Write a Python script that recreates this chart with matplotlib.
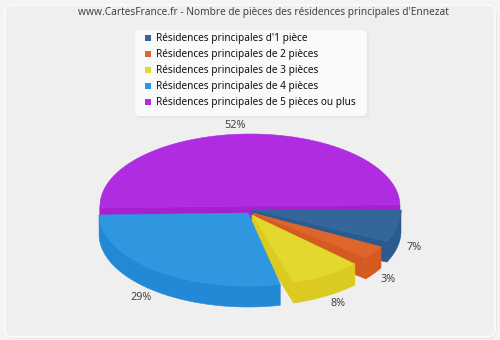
import numpy as np
import matplotlib
matplotlib.use("Agg")
import matplotlib.pyplot as plt
from matplotlib.patches import FancyBboxPatch, Polygon

title = "www.CartesFrance.fr - Nombre de pièces des résidences principales d'Ennezat"
categories = [
    "Résidences principales d'1 pièce",
    "Résidences principales de 2 pièces",
    "Résidences principales de 3 pièces",
    "Résidences principales de 4 pièces",
    "Résidences principales de 5 pièces ou plus",
]
values = [7, 3, 8, 29, 52]
value_labels = ["7%", "3%", "8%", "29%", "52%"]

top_colors = ["#33669a", "#e0652c", "#e3d82c", "#2f97e0", "#b02ce0"]
side_colors = ["#2a5a8e", "#d45a22", "#dbcb20", "#2389d6", "#a720d0"]

# layout of the exploded slices, pixels on the 500x340 canvas
gaps = [0.0, 3.2, 5.2, 4.3, -3.5]
apex = [(252, 210), (253, 213), (252, 215), (248, 213), (250, 206)]
radii = [(149, 73), (145.5, 71), (144, 70), (149, 73), (150, 72)]
depth = 21
label_xy = [(414, 248), (388, 279), (338, 303), (141, 297), (235, 126)]
draw_order = [4, 0, 1, 2, 3]


def arc(center, radius, start, stop):
    t = np.radians(np.linspace(start, stop, 80))
    return np.column_stack([center[0] + radius[0] * np.cos(t), center[1] + radius[1] * np.sin(t)])


def draw_slice(ax, center, radius, start, stop, top, side):
    down = np.array([0, depth])
    cx_cy = np.array(center)

    # cut faces, only those turned towards the viewer
    for angle, sign in ((start, -1), (stop, 1)):
        if sign * np.cos(np.radians(angle)) > 0:
            edge = arc(center, radius, angle, angle)[0]
            face = [cx_cy, edge, edge + down, cx_cy + down]
            ax.add_patch(Polygon(face, closed=True, fc=side, ec=side, lw=0.4))

    # outer wall on the front half
    front_start, front_stop = max(start, 0), min(stop, 180)
    if front_stop > front_start:
        rim = arc(center, radius, front_start, front_stop)
        wall = np.vstack([rim, rim[::-1] + down])
        ax.add_patch(Polygon(wall, closed=True, fc=side, ec=side, lw=0.4))

    outline = np.vstack([[cx_cy], arc(center, radius, start, stop)])
    ax.add_patch(Polygon(outline, closed=True, fc=top, ec=top, lw=0.4))


fig = plt.figure(figsize=(5, 3.4), dpi=100, facecolor="#f4f4f4")
ax = fig.add_axes([0, 0, 1, 1])
ax.set_xlim(0, 500)
ax.set_ylim(340, 0)
ax.axis("off")

ax.add_patch(FancyBboxPatch((6, 6), 490, 332, boxstyle="round,pad=0,rounding_size=8",
                            fc="none", ec="#e4e4e4", lw=1.0))
ax.add_patch(FancyBboxPatch((5, 5), 490, 332, boxstyle="round,pad=0,rounding_size=8",
                            fc="#efefef", ec="#fcfcfc", lw=1.2))

sweeps = [v * 3.6 for v in values]
starts = []
position = 0.0
for sweep, gap in zip(sweeps, gaps):
    position += gap
    starts.append(position)
    position += sweep

# each slice ends where the next one begins if they would overlap
stops = [min(a + s, b) for a, s, b in zip(starts, sweeps, starts[1:] + [359])]

for i in draw_order:
    draw_slice(ax, apex[i], radii[i], starts[i], stops[i], top_colors[i], side_colors[i])

for label, (x, y) in zip(value_labels, label_xy):
    ax.text(x, y, label, ha="center", va="center", fontsize=7.8, color="#444444", family="Noto Sans")

ax.text(78, 13, title, ha="left", va="center", fontsize=7.3, color="#444444", family="Noto Sans")

# legend
ax.add_patch(FancyBboxPatch((137, 32), 232, 86, boxstyle="round,pad=0,rounding_size=5",
                            fc="#e6e6e6", ec="none"))
ax.add_patch(FancyBboxPatch((135, 30), 232, 86, boxstyle="round,pad=0,rounding_size=5",
                            fc="#fafafa", ec="none"))
for row, (name, color) in enumerate(zip(categories, top_colors)):
    y = 38 + row * 16
    ax.add_patch(plt.Rectangle((145, y - 3), 6, 6, fc=color, ec="none"))
    ax.text(156.5, y, name, ha="left", va="center", fontsize=7.25, color="#111111", family="Noto Sans")

fig.savefig("out.png", dpi=100, facecolor=fig.get_facecolor())
